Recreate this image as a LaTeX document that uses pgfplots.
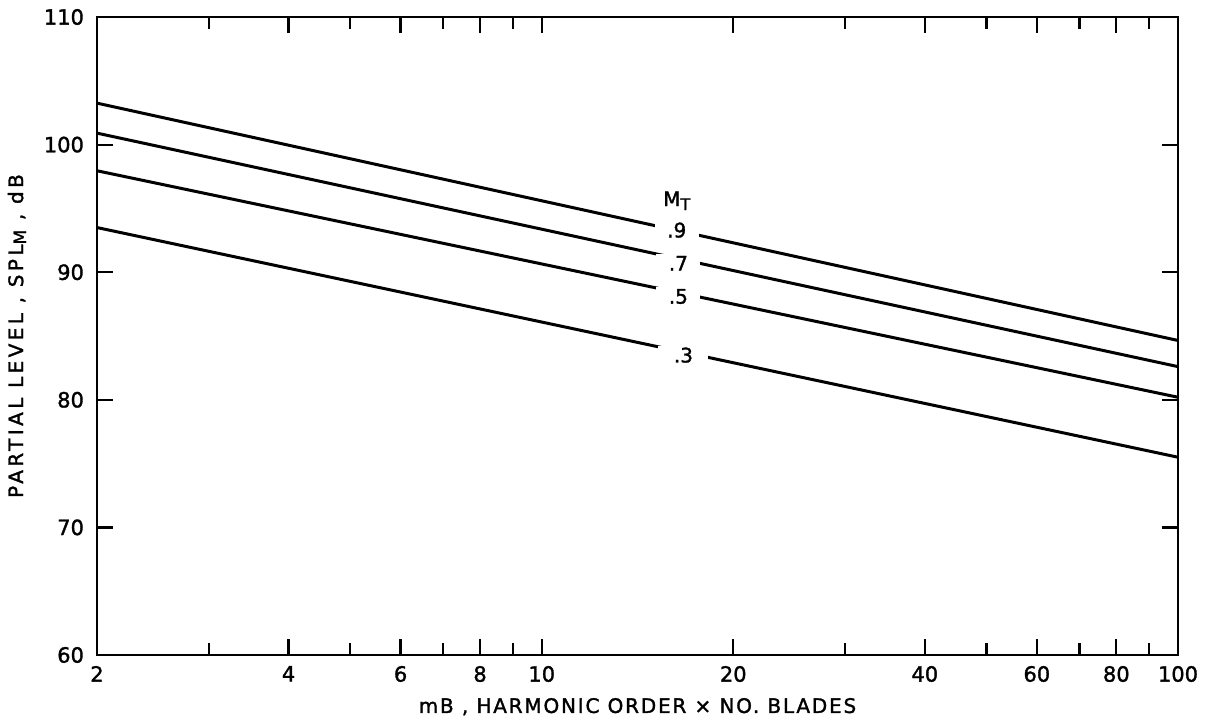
\documentclass[border=0pt]{standalone}
\usepackage{fontspec}
\setmainfont{DejaVu Sans}[FakeBold=1.5]
\usepackage{pgfplots}
\pgfplotsset{compat=1.18}
\newfontfamily\tickfont{DejaVu Sans}[FakeBold=1.5]
\newfontfamily\xlabfont{DejaVu Sans}[FakeBold=1.5,LetterSpace=9]
\newfontfamily\ylabfont{DejaVu Sans}[FakeBold=1.5,LetterSpace=17]
\begin{document}
\fontsize{10pt}{12pt}\selectfont
\begin{tikzpicture}
\begin{axis}[
  name=ax,
  at={(0,0)}, anchor=south west,
  scale only axis,
  width=540.5pt, height=319pt,
  xmode=log,
  xmin=2, xmax=100, ymin=60, ymax=110,
  xtick={2,4,6,8,10,20,40,60,80,100},
  xticklabels={2,4,6,8,10,20,40,60,80,100},
  minor xtick={3,5,7,9,30,50,70,90},
  ytick={60,70,80,90,100,110},
  tick align=inside,
  major tick length=8pt,
  minor tick length=6pt,
  every tick/.style={black, line width=1.1pt},
  axis line style={line width=1.3pt},
  /pgf/number format/assume math mode=true,
  ticklabel style={font=\tickfont\fontsize{10.5pt}{12pt}\selectfont},
  yticklabel style={xshift=-3pt},
  xticklabel style={yshift=-2pt},
  xlabel={mB , HARMONIC ORDER × NO. BLADES},
  ylabel={PARTIAL LEVEL , SPL\raisebox{-1.5pt}{\fontsize{8.5pt}{10pt}\selectfont M} , dB},
  xlabel style={font=\xlabfont\fontsize{10pt}{12pt}\selectfont, at={(axis description cs:0.5,-0.081)}, anchor=center},
  ylabel style={font=\ylabfont\fontsize{10pt}{12pt}\selectfont, at={(axis description cs:-0.074,0.5)}, anchor=center},
  clip=false,
]
\addplot[black, line width=1.5pt] coordinates {(2,103.25) (100,84.65)};
\addplot[black, line width=1.5pt] coordinates {(2,100.9) (100,82.6)};
\addplot[black, line width=1.5pt] coordinates {(2,97.95) (100,80.2)};
\addplot[black, line width=1.5pt] coordinates {(2,93.5) (100,75.5)};
\node[fill=white, inner xsep=0pt, inner ysep=1pt, minimum width=22pt] at (axis cs:16.3,93.3) {.9};
\node[fill=white, inner xsep=0pt, inner ysep=1pt, minimum width=22pt] at (axis cs:16.4,90.7) {.7};
\node[fill=white, inner xsep=0pt, inner ysep=1pt, minimum width=22pt] at (axis cs:16.4,88.1) {.5};
\node[fill=white, inner xsep=0pt, inner ysep=1pt, minimum width=25pt] at (axis cs:16.7,83.5) {.3};
\node at (axis cs:16.3,95.6) {M\raisebox{-2pt}{\fontsize{8pt}{9pt}\selectfont T}};
\end{axis}
\path (-48.5pt,-34.5pt) rectangle (554.5pt,327.5pt);
\end{tikzpicture}
\end{document}
